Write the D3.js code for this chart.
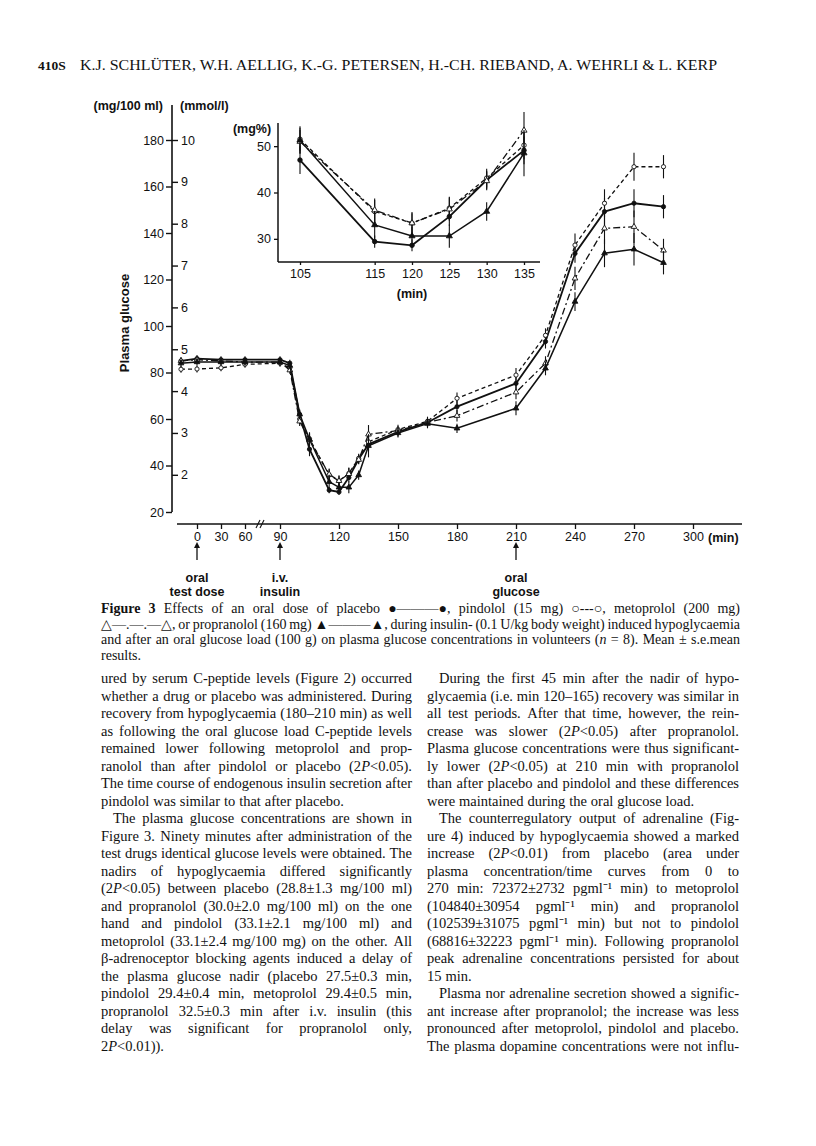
<!DOCTYPE html>
<html>
<head>
<meta charset="utf-8">
<script src="https://cdn.jsdelivr.net/npm/d3@7"></script>
<style>
  body { margin: 0; background: #fff; }
  svg { display: block; }
</style>
</head>
<body>
<div id="page"></div>
<script>
/**
 * CONSTANTS
 * */
const width = 816, height = 1146;

// sampling times (min) and plasma glucose (mg/100 ml)
const times = [-20, 0, 30, 60, 90, 95, 100, 105, 115, 120, 125, 130, 135, 150, 165, 180, 210, 225, 240, 255, 270, 285];
const placebo     = [85, 86, 85.5, 85.5, 85.5, 84, 62, 47, 29.4, 28.6, 34.8, 42.7, 49.1, 54.5, 58.5, 65.3, 75.3, 93.3, 131.2, 149.2, 152.8, 151.3];
const pindolol    = [81.4, 81.5, 82, 83.5, 84, 82, 60, 51.5, 35.9, 33.4, 36.6, 43.1, 50.2, 55.5, 59, 68.9, 78.9, 96, 134.8, 152.8, 168.5, 168.5];
const metoprolol  = [85, 85.5, 85, 84.5, 84.5, 81, 59, 51, 36.2, 33.4, 36.4, 42.5, 53.4, 55, 58.5, 61.4, 71.5, 84, 120.5, 142, 142.7, 132.5];
const propranolol = [84, 84.5, 84.5, 84.5, 84.5, 83, 62, 51.3, 33.0, 30.6, 30.6, 35.9, 48.5, 54, 58, 56, 64.6, 81.8, 110.5, 131.3, 133, 127.2];

// s.e.mean
const semPlacebo     = [1.5, 1.5, 1.5, 1.5, 1.5, 1.5, 2, 3, 1.3, 1.3, 2, 2, 3, 2, 2, 2.5, 3, 3, 4, 6, 6, 5];
const semPindolol    = [1.5, 1.5, 1.5, 1.5, 1.5, 1.5, 2, 2.5, 2.5, 2.1, 2.5, 2, 3, 2, 2, 2.5, 3, 3, 5, 6, 6, 5];
const semMetoprolol  = [1.5, 1.5, 1.5, 1.5, 1.5, 1.5, 2, 2.5, 2.5, 2.4, 2.5, 2, 4, 2, 2, 2.5, 3, 3, 5, 7, 7, 5];
const semPropranolol = [1.5, 1.5, 1.5, 1.5, 1.5, 1.5, 2, 3, 3, 2, 2.5, 2, 5, 2, 2, 2, 3, 3, 4, 6, 7, 5];

const mgTicks = [20, 40, 60, 80, 100, 120, 140, 160, 180];
const mmolTicks = [2, 3, 4, 5, 6, 7, 8, 9, 10];
const minTicks = [0, 30, 60, 90, 120, 150, 180, 210, 240, 270, 300];
const insetTimes = [105, 115, 120, 125, 130, 135];
const insetYTicks = [30, 40, 50];
const events = [[0, "oral", "test dose"], [90, "i.v.", "insulin"], [210, "oral", "glucose"]];

const header = "K.J. SCHLÜTER, W.H. AELLIG, K.-G. PETERSEN, H.-CH. RIEBAND, A. WEHRLI & L. KERP";

const caption = [
  "#Figure# #3#  Effects of an oral dose of placebo ●———●, pindolol (15 mg) ○---○, metoprolol (200 mg)",
  "△—.—.—△, or propranolol (160 mg) ▲———▲, during insulin- (0.1 U/kg body weight) induced hypoglycaemia",
  "and after an oral glucose load (100 g) on plasma glucose concentrations in volunteers (_n_ = 8). Mean ± s.e.mean",
  "results."
];

const leftCol = [
  "ured by serum C-peptide levels (Figure 2) occurred",
  "whether a drug or placebo was administered. During",
  "recovery from hypoglycaemia (180–210 min) as well",
  "as following the oral glucose load C-peptide levels",
  "remained lower following metoprolol and prop-",
  "ranolol than after pindolol or placebo (2_P_<0.05).",
  "The time course of endogenous insulin secretion after",
  "pindolol was similar to that after placebo.",
  ">The plasma glucose concentrations are shown in",
  "Figure 3. Ninety minutes after administration of the",
  "test drugs identical glucose levels were obtained. The",
  "nadirs of hypoglycaemia differed significantly",
  "(2_P_<0.05) between placebo (28.8±1.3 mg/100 ml)",
  "and propranolol (30.0±2.0 mg/100 ml) on the one",
  "hand and pindolol (33.1±2.1 mg/100 ml) and",
  "metoprolol (33.1±2.4 mg/100 mg) on the other. All",
  "β-adrenoceptor blocking agents induced a delay of",
  "the plasma glucose nadir (placebo 27.5±0.3 min,",
  "pindolol 29.4±0.4 min, metoprolol 29.4±0.5 min,",
  "propranolol 32.5±0.3 min after i.v. insulin (this",
  "delay was significant for propranolol only,",
  "2_P_<0.01))."
];
const leftEnds = [7, 21];

const rightCol = [
  ">During the first 45 min after the nadir of hypo-",
  "glycaemia (i.e. min 120–165) recovery was similar in",
  "all test periods. After that time, however, the rein-",
  "crease was slower (2_P_<0.05) after propranolol.",
  "Plasma glucose concentrations were thus significant-",
  "ly lower (2_P_<0.05) at 210 min with propranolol",
  "than after placebo and pindolol and these differences",
  "were maintained during the oral glucose load.",
  ">The counterregulatory output of adrenaline (Fig-",
  "ure 4) induced by hypoglycaemia showed a marked",
  "increase (2_P_<0.01) from placebo (area under",
  "plasma concentration/time curves from 0 to",
  "270 min: 72372±2732 pgml⁻¹ min) to metoprolol",
  "(104840±30954 pgml⁻¹ min) and propranolol",
  "(102539±31075 pgml⁻¹ min) but not to pindolol",
  "(68816±32223 pgml⁻¹ min). Following propranolol",
  "peak adrenaline concentrations persisted for about",
  "15 min.",
  ">Plasma nor adrenaline secretion showed a signific-",
  "ant increase after propranolol; the increase was less",
  "pronounced after metoprolol, pindolol and placebo.",
  "The plasma dopamine concentrations were not influ-"
];
const rightEnds = [7, 17];

const series = [
  { name: "placebo", values: placebo, sem: semPlacebo, dash: null, sym: d3.symbolCircle, fill: "#111", w: 1.8 },
  { name: "pindolol", values: pindolol, sem: semPindolol, dash: "4,3", sym: d3.symbolCircle, fill: "#fff", w: 1.3 },
  { name: "metoprolol", values: metoprolol, sem: semMetoprolol, dash: "7,3,2,3", sym: d3.symbolTriangle, fill: "#fff", w: 1.3 },
  { name: "propranolol", values: propranolol, sem: semPropranolol, dash: null, sym: d3.symbolTriangle, fill: "#111", w: 1.5 }
];

const ink = "#111";
const sans = "'Liberation Sans', Arial, sans-serif";
const serif = "'Liberation Serif', 'Times New Roman', serif";

const svg = d3.select("#page").append("svg")
  .attr("width", width)
  .attr("height", height)
  .style("background", "#fff");

/**
 * TEXT HELPERS
 * */
function rich(s) {
  return s.replace(/&/g, "&amp;").replace(/</g, "&lt;")
    .replace(/#(.+?)#/g, '<tspan font-weight="bold">$1</tspan>')
    .replace(/_(.+?)_/g, '<tspan font-style="italic">$1</tspan>');
}

// one justified (or ragged) line of text, word by word
function textLine(g, str, x, y, w, size, justify) {
  let indent = 0;
  if (str[0] === ">") { indent = 12; str = str.slice(1); }
  const words = str.split(" ").filter(d => d.length);
  const items = words.map(word => {
    const t = g.append("text")
      .attr("y", y)
      .attr("font-size", size)
      .attr("font-family", serif)
      .attr("fill", ink)
      .html(rich(word));
    return { t, len: t.node().getComputedTextLength() };
  });
  const total = d3.sum(items, d => d.len);
  let gap = size * 0.27;
  if (justify && items.length > 1) gap = (w - indent - total) / (items.length - 1);
  let cx = x + indent;
  items.forEach(d => { d.t.attr("x", cx); cx += d.len + gap; });
}

/**
 * HEADER
 * */
svg.append("text")
  .attr("x", 38).attr("y", 70)
  .attr("font-family", serif).attr("font-weight", "bold").attr("font-size", 13.5)
  .attr("fill", ink).text("410S");
svg.append("text")
  .attr("x", 80).attr("y", 70)
  .attr("font-family", serif).attr("font-size", 14)
  .attr("textLength", 637).attr("lengthAdjust", "spacingAndGlyphs")
  .attr("fill", ink).text(header);

/**
 * MAIN CHART
 * */
const x = d3.scaleLinear().domain([0, 60, 90, 300]).range([197, 245, 280, 693]);
const y = d3.scaleLinear().domain([20, 180]).range([512, 140]);
const yMmol = d3.scaleLinear().domain([20 / 18, 10]).range([512, 140]);
const axisX = 172;

const chart = svg.append("g").attr("font-family", sans).attr("fill", ink);

chart.append("line")
  .attr("x1", axisX).attr("x2", axisX).attr("y1", 105).attr("y2", 512)
  .attr("stroke", ink).attr("stroke-width", 1.6);

const gMg = chart.append("g").attr("transform", `translate(${axisX},0)`)
  .call(d3.axisLeft(y).tickValues(mgTicks).tickSize(6).tickSizeOuter(0).tickPadding(2));
const gMmol = chart.append("g").attr("transform", `translate(${axisX},0)`)
  .call(d3.axisRight(yMmol).tickValues(mmolTicks).tickSize(6).tickSizeOuter(0).tickPadding(3));
[gMg, gMmol].forEach(g => {
  g.select(".domain").remove();
  g.selectAll("line").attr("stroke", ink).attr("stroke-width", 1.4);
  g.selectAll("text").attr("font-family", sans).attr("font-size", 12.5).attr("fill", ink);
});

chart.append("text").attr("x", 163).attr("y", 110).attr("text-anchor", "end")
  .attr("font-size", 12.5).attr("font-weight", "bold").text("(mg/100 ml)");
chart.append("text").attr("x", 180).attr("y", 110)
  .attr("font-size", 12.5).attr("font-weight", "bold").text("(mmol/l)");
chart.append("text")
  .attr("transform", "translate(129,323) rotate(-90)")
  .attr("text-anchor", "middle").attr("font-size", 13).attr("font-weight", "bold")
  .text("Plasma glucose");

// x axis
const xAxisY = 524;
chart.append("line")
  .attr("x1", 177).attr("x2", 742).attr("y1", xAxisY).attr("y2", xAxisY)
  .attr("stroke", ink).attr("stroke-width", 1.6);
const gX = chart.append("g").attr("transform", `translate(0,${xAxisY})`)
  .call(d3.axisBottom(x).tickValues(minTicks).tickSize(5).tickSizeOuter(0).tickPadding(3));
gX.select(".domain").remove();
gX.selectAll("line").attr("stroke", ink).attr("stroke-width", 1.3);
gX.selectAll("text").attr("font-family", sans).attr("font-size", 12.5).attr("fill", ink);
chart.append("text").attr("x", 708).attr("y", xAxisY + 18)
  .attr("font-size", 12.5).attr("font-weight", "bold").text("(min)");

// axis break
[-3, 1].forEach(dx => {
  chart.append("line")
    .attr("x1", 261 + dx - 2).attr("y1", xAxisY + 4)
    .attr("x2", 261 + dx + 2).attr("y2", xAxisY - 4)
    .attr("stroke", ink).attr("stroke-width", 1.1);
});

// event arrows
events.forEach(([t, l1, l2]) => {
  const ex = x(t);
  chart.append("line").attr("x1", ex).attr("x2", ex).attr("y1", 560).attr("y2", 546)
    .attr("stroke", ink).attr("stroke-width", 1.3);
  chart.append("path").attr("d", `M${ex - 3},${548}L${ex},${542}L${ex + 3},${548}Z`).attr("fill", ink);
  chart.append("text").attr("x", ex).attr("y", 582).attr("text-anchor", "middle")
    .attr("font-size", 12.5).attr("font-weight", "bold").text(l1);
  chart.append("text").attr("x", ex).attr("y", 596).attr("text-anchor", "middle")
    .attr("font-size", 12.5).attr("font-weight", "bold").text(l2);
});

function drawSeries(g, xs, ys, tArr, sizeSym) {
  series.forEach(s => {
    const pts = tArr.map(t => {
      const i = times.indexOf(t);
      return { t, v: s.values[i], e: s.sem[i] };
    });
    const line = d3.line().x(d => xs(d.t)).y(d => ys(d.v));
    g.append("path").datum(pts)
      .attr("d", line).attr("fill", "none")
      .attr("stroke", ink).attr("stroke-width", s.w)
      .attr("stroke-dasharray", s.dash);
    g.selectAll(null).data(pts).join("line")
      .attr("x1", d => xs(d.t)).attr("x2", d => xs(d.t))
      .attr("y1", d => ys(d.v - d.e)).attr("y2", d => ys(d.v + d.e))
      .attr("stroke", ink).attr("stroke-width", 1.1);
    g.selectAll(null).data(pts).join("path")
      .attr("d", d3.symbol(s.sym, sizeSym))
      .attr("transform", d => `translate(${xs(d.t)},${ys(d.v)})`)
      .attr("fill", s.fill).attr("stroke", ink).attr("stroke-width", 0.9);
  });
}

drawSeries(chart.append("g"), x, y, times, 14);

/**
 * INSET 105-135 min
 * */
const ix = d3.scaleLinear().domain([105, 135]).range([300, 524]);
const iy = d3.scaleLinear().domain([25, 55]).range([262, 123]);
const inset = svg.append("g").attr("font-family", sans).attr("fill", ink);

inset.append("line").attr("x1", 278).attr("x2", 278).attr("y1", 123).attr("y2", 262)
  .attr("stroke", ink).attr("stroke-width", 1.5);
inset.append("line").attr("x1", 278).attr("x2", 540).attr("y1", 262).attr("y2", 262)
  .attr("stroke", ink).attr("stroke-width", 1.5);

const gIY = inset.append("g").attr("transform", "translate(278,0)")
  .call(d3.axisLeft(iy).tickValues(insetYTicks).tickSize(4).tickSizeOuter(0).tickPadding(3));
const gIX = inset.append("g").attr("transform", "translate(0,262)")
  .call(d3.axisBottom(ix).tickValues(insetTimes).tickSize(3).tickSizeOuter(0).tickPadding(4));
[gIY, gIX].forEach(g => {
  g.select(".domain").remove();
  g.selectAll("line").attr("stroke", ink).attr("stroke-width", 1.3);
  g.selectAll("text").attr("font-family", sans).attr("font-size", 12.5).attr("fill", ink);
});
inset.append("text").attr("x", 252).attr("y", 133).attr("text-anchor", "middle")
  .attr("font-size", 12.5).attr("font-weight", "bold").text("(mg%)");
inset.append("text").attr("x", 412).attr("y", 298).attr("text-anchor", "middle")
  .attr("font-size", 12.5).attr("font-weight", "bold").text("(min)");

drawSeries(inset.append("g"), ix, iy, insetTimes, 16);

/**
 * CAPTION AND BODY TEXT
 * */
const cap = svg.append("g");
caption.forEach((line, i) => {
  textLine(cap, line, 101, 613 + i * 15.5, 639, 14, i < caption.length - 1);
});

const body = svg.append("g");
leftCol.forEach((line, i) => {
  textLine(body, line, 101, 683 + i * 17.52, 311, 14.5, !leftEnds.includes(i));
});
rightCol.forEach((line, i) => {
  textLine(body, line, 427, 683 + i * 17.52, 312, 14.5, !rightEnds.includes(i));
});
</script>
</body>
</html>
